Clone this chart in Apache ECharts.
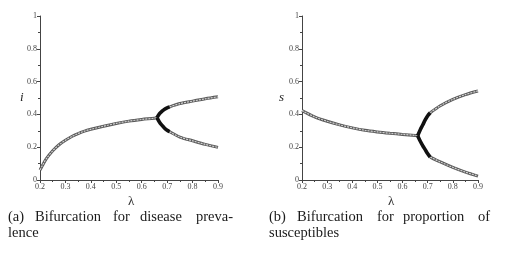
<!DOCTYPE html>
<html><head><meta charset="utf-8">
<script src="https://cdn.jsdelivr.net/npm/echarts@6/dist/echarts.min.js"></script>
<style>html,body{margin:0;padding:0;background:#fff}#c{width:507px;height:265px}</style>
</head><body><div id="c"></div>
<script>
// ---- data ----
// (a) disease prevalence i vs lambda
const lamMainI = [0.2,0.21,0.225,0.25,0.275,0.3,0.325,0.35,0.375,0.4,0.45,0.5,0.55,0.6,0.65,0.66];
const iMain    = [0.061,0.09,0.13,0.178,0.215,0.242,0.265,0.283,0.298,0.309,0.328,0.345,0.359,0.369,0.377,0.38];
const lamBifI  = [0.66,0.67,0.68,0.69,0.70,0.71];
const iBifUp   = [0.38,0.405,0.42,0.432,0.44,0.446];
const iBifLow  = [0.38,0.352,0.333,0.316,0.303,0.294];
const lamBrI   = [0.71,0.75,0.8,0.85,0.9];
const iUp      = [0.446,0.466,0.481,0.495,0.507];
const iLow     = [0.294,0.262,0.239,0.217,0.199];
// (b) proportion of susceptibles s vs lambda
const lamMainS = [0.2,0.25,0.3,0.35,0.4,0.45,0.5,0.55,0.6,0.65,0.66];
const sMain    = [0.423,0.385,0.358,0.336,0.318,0.303,0.293,0.285,0.278,0.272,0.27];
const lamBifS  = [0.66,0.67,0.68,0.69,0.70,0.71];
const sBifUp   = [0.27,0.305,0.335,0.366,0.392,0.41];
const sBifLow  = [0.27,0.238,0.21,0.185,0.16,0.14];
const lamBrS   = [0.71,0.75,0.8,0.85,0.9];
const sUp      = [0.41,0.453,0.492,0.521,0.543];
const sLow     = [0.14,0.11,0.077,0.048,0.024];
// axis ticks
const xTicks = {min:0.2, max:0.9, interval:0.1};
const yTicks = {min:0, max:1, interval:0.2};
const captionA = [["(a)","Bifurcation","for","disease","preva-"],["lence"]];
const captionB = [["(b)","Bifurcation","for","proportion","of"],["susceptibles"]];

const zip = (a,b)=>a.map((x,k)=>[x,b[k]]);
const chart = echarts.init(document.getElementById('c'), null, {renderer:'canvas'});
const serif = '"Liberation Serif","DejaVu Serif",serif';

function xAx(g){return {gridIndex:g,type:'value',min:xTicks.min,max:xTicks.max,interval:xTicks.interval,
  axisLine:{lineStyle:{color:'#444',width:1}},axisTick:{length:3,lineStyle:{color:'#444'}},
  minorTick:{show:true,splitNumber:2,length:2,lineStyle:{color:'#444'}},
  splitLine:{show:false},axisLabel:{fontFamily:serif,fontSize:8,color:'#444',margin:3}};}
function yAx(g){return {gridIndex:g,type:'value',min:yTicks.min,max:yTicks.max,interval:yTicks.interval,
  axisLine:{show:true,lineStyle:{color:'#444',width:1}},axisTick:{show:true,length:3,lineStyle:{color:'#444'}},
  minorTick:{show:true,splitNumber:2,length:2,lineStyle:{color:'#444'}},
  splitLine:{show:false},axisLabel:{fontFamily:serif,fontSize:8,color:'#444',margin:3}};}

function chain(g,data){
  return [
    {type:'line',xAxisIndex:g,yAxisIndex:g,data:data,smooth:0.3,symbol:'none',silent:true,
     lineStyle:{color:'#5a5a5a',width:3}},
    {type:'line',xAxisIndex:g,yAxisIndex:g,data:data,smooth:0.3,symbol:'none',silent:true,
     lineStyle:{color:'#d0d0d0',width:1.2,type:[2,1]}}
  ];
}
function bif(g,data){
  return {type:'line',xAxisIndex:g,yAxisIndex:g,data:data,smooth:0.3,symbol:'none',silent:true,
    lineStyle:{color:'#111',width:3.6}};
}

const series = [].concat(
  chain(0,zip(lamMainI,iMain)), chain(0,zip(lamBrI,iUp)), chain(0,zip(lamBrI,iLow)),
  [bif(0,zip(lamBifI,iBifUp)), bif(0,zip(lamBifI,iBifLow))],
  chain(1,zip(lamMainS,sMain)), chain(1,zip(lamBrS,sUp)), chain(1,zip(lamBrS,sLow)),
  [bif(1,zip(lamBifS,sBifUp)), bif(1,zip(lamBifS,sBifLow))]
);

function captionWords(lines,xs,x0,y0){
  const out=[];
  lines[0].forEach((w,k)=>out.push({type:'text',left:xs[k],top:y0,style:{text:w,fontFamily:serif,fontSize:14.5,fill:'#1a1a1a'}}));
  lines[1].forEach((w)=>out.push({type:'text',left:x0,top:y0+16,style:{text:w,fontFamily:serif,fontSize:14.5,fill:'#1a1a1a'}}));
  return out;
}

const graphics = [
  {type:'text',left:128,top:195,style:{text:'λ',fontFamily:serif,fontSize:13,fill:'#333'}},
  {type:'text',left:388,top:195,style:{text:'λ',fontFamily:serif,fontSize:13,fill:'#333'}},
  {type:'text',left:20,top:91,style:{text:'i',fontFamily:serif,fontSize:13,fontStyle:'italic',fill:'#222'}},
  {type:'text',left:279,top:91,style:{text:'s',fontFamily:serif,fontSize:13,fontStyle:'italic',fill:'#222'}}
].concat(
  captionWords(captionA,[8,35,113,140,196],8,210),
  captionWords(captionB,[269,297,377,403,478],269,210)
);

chart.setOption({
  animation:false,
  backgroundColor:'#fff',
  grid:[{left:40,top:16,width:178,height:164},{left:302,top:16,width:176,height:164}],
  xAxis:[xAx(0),xAx(1)],
  yAxis:[yAx(0),yAx(1)],
  series:series,
  graphic:graphics
});
</script></body></html>
